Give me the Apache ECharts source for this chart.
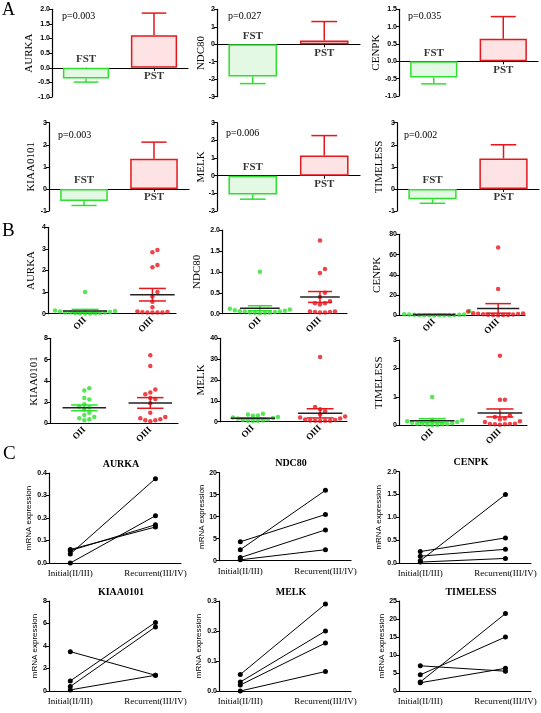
<!DOCTYPE html>
<html><head><meta charset="utf-8">
<script src="https://cdn.jsdelivr.net/npm/echarts@6/dist/echarts.min.js"></script>
<style>html,body{margin:0;padding:0;background:#fff}#c{width:541px;height:713px}</style>
</head><body><div id="c"></div>
<script>
// ---------- DATA ----------
const genes = ['AURKA','NDC80','CENPK','KIAA0101','MELK','TIMELESS'];
// Panel A
const barCats = ['FST','PST'];
const pTexts = ['p=0.003','p=0.027','p=0.035','p=0.003','p=0.006','p=0.002'];
const fstMean = [-0.37, -1.85, -0.47, -0.55, -1.07, -0.47];
const fstSem  = [0.12, 0.40, 0.18, 0.20, 0.26, 0.18];
const pstMean = [1.11, 0.21, 0.65, 1.37, 1.14, 1.38];
const pstSem  = [0.76, 1.09, 0.64, 0.75, 1.13, 0.62];
const aMin  = [-1, -3, -1, -1, -2, -1];
const aMax  = [2, 2, 1.5, 3, 3, 3];
const aStep = [0.5, 1, 0.5, 1, 1, 1];
// Panel B
const groupNames = ['OII','OIII'];
const oiiValues = [
  [1.0,0.15,0.12,0.1,0.08,0.06,0.05,0.05,0.04,0.03,0.02,0.02,0.01,0.01],
  [1.0,0.12,0.1,0.08,0.07,0.06,0.05,0.05,0.04,0.03,0.03,0.02,0.02,0.01],
  [4.5,1.2,1.0,0.9,0.8,0.7,0.6,0.5,0.4,0.3,0.3,0.2,0.2,0.1],
  [3.3,3.1,2.4,2.25,1.8,1.6,1.5,1.3,1.0,0.8,0.6,0.5,0.4,0.3],
  [3.8,3.5,3.0,2.8,2.2,2.0,1.8,1.5,1.0,0.8,0.6,0.5,0.4,0.3],
  [1.0,0.2,0.18,0.15,0.12,0.1,0.08,0.06,0.05,0.05,0.04,0.03,0.03,0.02]
];
const oiiiValues = [
  [2.95,2.85,2.25,2.15,1.0,0.8,0.55,0.3,0.1,0.08,0.07,0.06,0.05,0.05,0.05],
  [1.75,1.07,0.97,0.5,0.4,0.3,0.25,0.25,0.22,0.05,0.05,0.04,0.04,0.03,0.03],
  [67,26,4,2.5,2.2,2,1.8,1.5,1.2,1,0.8,0.6,0.5,0.4,0.3],
  [6.4,5.4,3.2,2.9,2.75,2.4,2.3,1.9,1.0,0.6,0.5,0.4,0.3,0.3,0.2],
  [31,7,6,5,3.5,2.5,2,1.5,1,0.8,0.6,0.5,0.5,0.4,0.3],
  [2.45,0.9,0.9,0.35,0.3,0.25,0.22,0.15,0.12,0.06,0.05,0.05,0.04,0.04,0.03]
];
const oiiMean  = [0.13, 0.13, 1.0, 1.47, 1.6, 0.17];
const oiiSem   = [0.07, 0.06, 0.35, 0.27, 0.3, 0.07];
const oiiiMean = [0.88, 0.40, 7.0, 1.93, 4.0, 0.44];
const oiiiSem  = [0.29, 0.13, 4.7, 0.5, 2.2, 0.14];
const bMax  = [4, 2, 80, 8, 40, 3];
const bStep = [1, 0.5, 20, 2, 10, 1];
// Panel C
const stages = ['Initial(II/III)','Recurrent(III/IV)'];
const initialValues = [
  [0.04, 0.0, 0.055, 0.06],
  [2.5, 4.3, 0.7, 0.2],
  [0.05, 0.25, 0.15, 0.02],
  [3.5, 0.9, 0.4, 0.1],
  [0.055, 0.03, 0.02, 0.0],
  [2.5, 4.5, 7.0, 2.3]
];
const recurrentValues = [
  [0.375, 0.21, 0.17, 0.16],
  [16, 10.5, 7, 2.5],
  [1.5, 0.55, 0.3, 0.1],
  [1.4, 6.1, 5.7, 1.4],
  [0.29, 0.2, 0.16, 0.065],
  [21.5, 15, 5.5, 6.3]
];
const cMax  = [0.4, 20, 2, 8, 0.3, 25];
const cStep = [0.1, 5, 0.5, 2, 0.1, 5];

// ---------- LAYOUT / STYLE ----------
const GREEN='#2ee02e', GREEN_FILL='#e4f9e4', RED='#e3171c', RED_FILL='#fde3e3';
const PT_GREEN='#2fde2f', PT_RED='#e8141c';
const SERIF="'Liberation Serif','Times New Roman',serif";
const SANS="'Liberation Sans',Arial,sans-serif";
// [left, top, width, height, nameGap, pX, pY]
const aLayout = [
  [52,9.3,136,87.7,17, 62,16],[217,9.3,143,87.4,10, 228,16],[399,9.3,139,86.7,17, 408,16],
  [49,122.7,140,88.3,12, 58,135],[217,122.7,143,88.3,10, 226,133],[397,122.7,142,88.3,12, 404,135]
];
// [left, top, width, height, xmin, xmax, nameGap]
const bLayout = [
  [48,227.3,128,86.4,-0.55,1.35,11],[222,230,125,83.7,-0.63,1.45,19],[399,234.3,126,81.2,-0.55,1.42,16],
  [50,338.3,128,85.2,-0.52,1.42,10],[220,338.3,127,83.4,-0.49,1.4,13],[399,340,128,85.5,-0.49,1.4,14]
];
// [left, top, width, height, nameGap]
const cLayout = [
  [49,473,132,90,16],[219,472.7,132,88,13],[399,471.7,132,91.3,16],
  [49,601,132,90,10],[219,601,132,90,16],[399,601,132,90,13]
];

function dec(step){ const s=String(step); return s.indexOf('.')>=0 ? s.split('.')[1].length : 0; }
function fmt(step){ const d=dec(step); return v => Number(v).toFixed(d); }

const grid=[], xAxis=[], yAxis=[], series=[], graphic=[];
function yAx(gi,min,max,step,name,gap,nameFont,nameSize,labelSize){
  return {gridIndex:gi,type:'value',min:min,max:max,interval:step,name:name,nameLocation:'middle',
    nameGap:gap,nameRotate:90,nameMoveOverlap:false,
    nameTextStyle:{fontFamily:nameFont,fontSize:nameSize,color:'#000'},
    axisLine:{show:true,onZero:false,lineStyle:{color:'#000',width:1.2}},
    axisTick:{show:true,length:3,lineStyle:{color:'#000',width:1}},
    axisLabel:{fontFamily:SANS,fontSize:labelSize,fontWeight:'bold',color:'#000',margin:2,formatter:fmt(step)},
    splitLine:{show:false}};
}
let gi=0;
// ---------- PANEL A ----------
for(let i=0;i<6;i++){
  const L=aLayout[i];
  grid.push({left:L[0],top:L[1],width:L[2],height:L[3],outerBoundsMode:'none',containLabel:false});
  xAxis.push({gridIndex:gi,type:'category',data:barCats,boundaryGap:true,
    axisLine:{show:true,onZero:true,lineStyle:{color:'#000',width:1.2}},
    axisTick:{show:true,alignWithLabel:true,length:3,lineStyle:{color:'#000'}},
    axisLabel:{show:false},splitLine:{show:false}});
  yAxis.push(yAx(gi,aMin[i],aMax[i],aStep[i],genes[i],L[4],SERIF,11,7));
  series.push({type:'bar',xAxisIndex:gi,yAxisIndex:gi,barWidth:'68%',silent:true,
    data:[{value:fstMean[i],itemStyle:{color:GREEN_FILL,borderColor:GREEN,borderWidth:1.5}},
          {value:pstMean[i],itemStyle:{color:RED_FILL,borderColor:RED,borderWidth:1.5}}]});
  series.push({type:'custom',xAxisIndex:gi,yAxisIndex:gi,silent:true,
    data:[[0,fstMean[i],fstSem[i]],[1,pstMean[i],pstSem[i]]],
    renderItem:function(params,api){
      const x=api.value(0), m=api.value(1), s=api.value(2);
      const end = m>=0 ? m+s : m-s;
      const p0=api.coord([x,m]), p1=api.coord([x,end]);
      const hw=api.size([1,0])[0]*0.18;
      const col = params.dataIndex===0?GREEN:RED;
      return {type:'group',children:[
        {type:'line',shape:{x1:p0[0],y1:p0[1],x2:p1[0],y2:p1[1]},style:{stroke:col,lineWidth:1.5}},
        {type:'line',shape:{x1:p1[0]-hw,y1:p1[1],x2:p1[0]+hw,y2:p1[1]},style:{stroke:col,lineWidth:1.5}}
      ]};
    }});
  series.push({type:'scatter',xAxisIndex:gi,yAxisIndex:gi,symbolSize:0,silent:true,z:6,
    data:[{value:[0,0],label:{position:fstMean[i]<0?'top':'bottom'}},
          {value:[1,0],label:{position:pstMean[i]<0?'top':'bottom'}}],
    label:{show:true,distance:3,fontFamily:SERIF,fontWeight:'bold',fontSize:11,color:'#000',
      formatter:p=>barCats[p.dataIndex]}});
  graphic.push({type:'text',x:L[5],y:L[6],style:{text:pTexts[i],fontFamily:SERIF,fontSize:10,fill:'#000',textVerticalAlign:'middle'}});
  gi++;
}
// ---------- PANEL B ----------
function swarm(vals,pxPerY,pxPerX,d){
  const order=vals.map((v,i)=>i).sort((a,b)=>vals[a]-vals[b]);
  const placed=[], off=new Array(vals.length).fill(0);
  const cands=[0]; for(let j=1;j<30;j++){cands.push(j*d,-j*d);}
  for(const i of order){
    const y=vals[i]*pxPerY;
    for(const c of cands){
      if(placed.every(p=>(p.x-c)*(p.x-c)+(p.y-y)*(p.y-y)>=d*d*0.95)){placed.push({x:c,y:y});off[i]=c/pxPerX;break;}
    }
  }
  return off;
}
for(let i=0;i<6;i++){
  const L=bLayout[i];
  grid.push({left:L[0],top:L[1],width:L[2],height:L[3],outerBoundsMode:'none',containLabel:false});
  xAxis.push({gridIndex:gi,type:'value',min:L[4],max:L[5],
    axisLine:{show:true,onZero:false,lineStyle:{color:'#000',width:1.2}},
    axisTick:{show:false},splitLine:{show:false},
    axisLabel:{customValues:[0,1],rotate:45,margin:5,fontFamily:SERIF,fontWeight:'bold',fontSize:9,color:'#000',
      formatter:v=>groupNames[Math.round(v)]}});
  yAxis.push(yAx(gi,0,bMax[i],bStep[i],genes[i],L[6],SERIF,11,7));
  const pxY=L[3]/bMax[i], pxX=L[2]/(L[5]-L[4]);
  const o1=swarm(oiiValues[i],pxY,pxX,5), o2=swarm(oiiiValues[i],pxY,pxX,5);
  series.push({type:'scatter',xAxisIndex:gi,yAxisIndex:gi,symbolSize:4.5,silent:true,
    itemStyle:{color:PT_GREEN},data:oiiValues[i].map((v,k)=>[0+o1[k],v])});
  series.push({type:'scatter',xAxisIndex:gi,yAxisIndex:gi,symbolSize:4.5,silent:true,
    itemStyle:{color:PT_RED},data:oiiiValues[i].map((v,k)=>[1+o2[k],v])});
  series.push({type:'custom',xAxisIndex:gi,yAxisIndex:gi,silent:true,z:5,
    data:[[0,oiiMean[i],oiiSem[i]],[1,oiiiMean[i],oiiiSem[i]]],
    renderItem:function(params,api){
      const x=api.value(0), m=api.value(1), s=api.value(2);
      const pm=api.coord([x,m]), pt=api.coord([x,m+s]), pb=api.coord([x,Math.max(0,m-s)]);
      const mw=api.size([0.33,0])[0], cw=api.size([0.2,0])[0];
      const col=params.dataIndex===0?GREEN:RED;
      return {type:'group',children:[
        {type:'line',shape:{x1:pt[0],y1:pt[1],x2:pb[0],y2:pb[1]},style:{stroke:col,lineWidth:1.5}},
        {type:'line',shape:{x1:pt[0]-cw,y1:pt[1],x2:pt[0]+cw,y2:pt[1]},style:{stroke:col,lineWidth:1.5}},
        {type:'line',shape:{x1:pb[0]-cw,y1:pb[1],x2:pb[0]+cw,y2:pb[1]},style:{stroke:col,lineWidth:1.5}},
        {type:'line',shape:{x1:pm[0]-mw,y1:pm[1],x2:pm[0]+mw,y2:pm[1]},style:{stroke:'#222',lineWidth:1.5}}
      ]};
    }});
  gi++;
}
// ---------- PANEL C ----------
for(let i=0;i<6;i++){
  const L=cLayout[i];
  grid.push({left:L[0],top:L[1],width:L[2],height:L[3],outerBoundsMode:'none',containLabel:false});
  xAxis.push({gridIndex:gi,type:'value',min:-0.25,max:1.3,
    axisLine:{show:true,onZero:false,lineStyle:{color:'#000',width:1.2}},
    axisTick:{show:false},splitLine:{show:false},
    axisLabel:{customValues:[0,1],margin:6,fontFamily:SERIF,fontSize:9,color:'#000',
      formatter:v=>stages[Math.round(v)]}});
  yAxis.push(yAx(gi,0,cMax[i],cStep[i],'mRNA expression',L[4],SANS,8,7));
  for(let k=0;k<initialValues[i].length;k++){
    series.push({type:'line',xAxisIndex:gi,yAxisIndex:gi,silent:true,symbol:'circle',symbolSize:5,
      itemStyle:{color:'#000'},lineStyle:{color:'#000',width:1},
      data:[[0,initialValues[i][k]],[1,recurrentValues[i][k]]]});
  }
  graphic.push({type:'text',x:L[0]+72,y:L[1]-9,style:{text:genes[i],fontFamily:SERIF,fontWeight:'bold',fontSize:10,fill:'#000',textAlign:'center',textVerticalAlign:'middle'}});
  gi++;
}
graphic.push({type:'text',x:2,y:10,style:{text:'A',fontFamily:SERIF,fontSize:18,fill:'#000',textVerticalAlign:'middle'}});
graphic.push({type:'text',x:2,y:231,style:{text:'B',fontFamily:SERIF,fontSize:19,fill:'#000',textVerticalAlign:'middle'}});
graphic.push({type:'text',x:3,y:454,style:{text:'C',fontFamily:SERIF,fontSize:19,fill:'#000',textVerticalAlign:'middle'}});

const chart=echarts.init(document.getElementById('c'),null,{renderer:'canvas'});
chart.setOption({animation:false,backgroundColor:'#fff',grid:grid,xAxis:xAxis,yAxis:yAxis,series:series,graphic:graphic});
</script></body></html>
